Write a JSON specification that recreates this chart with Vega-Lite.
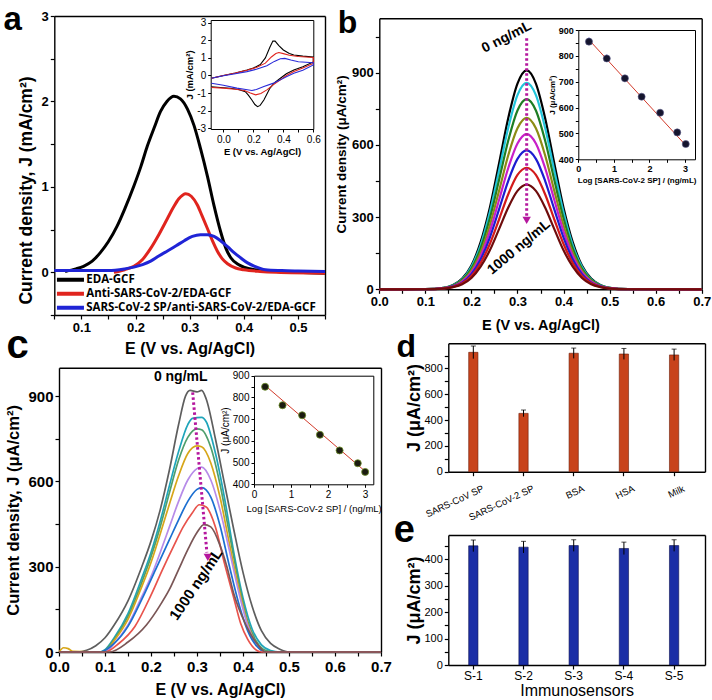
{
"$schema":"https://vega.github.io/schema/vega-lite/v6.json",
"width":712,"height":700,"autosize":{"type":"none"},"padding":0,"background":"white",
"config":{
 "view":{"stroke":null},
 "font":"Liberation Sans",
 "axis":{"grid":false,"domainColor":"#000","tickColor":"#000","labelColor":"#000","titleColor":"#000","labelFont":"Liberation Sans","titleFont":"Liberation Sans","labelFontWeight":"bold","titleFontWeight":"bold","domainWidth":1.4,"tickWidth":1.2,"tickSize":4,"labelPadding":2,"labelOverlap":false,"labelFlush":false,"labelBound":false},
 "legend":{"labelColor":"#000"}
},
"datasets":{
 "a":[
  {"s":"EDA-GCF","x":0.07,"y":0.01},{"s":"EDA-GCF","x":0.09,"y":0.04},{"s":"EDA-GCF","x":0.104,"y":0.07},{"s":"EDA-GCF","x":0.12,"y":0.13},{"s":"EDA-GCF","x":0.135,"y":0.23},{"s":"EDA-GCF","x":0.15,"y":0.36},{"s":"EDA-GCF","x":0.166,"y":0.54},{"s":"EDA-GCF","x":0.18,"y":0.74},{"s":"EDA-GCF","x":0.197,"y":1.01},{"s":"EDA-GCF","x":0.21,"y":1.24},{"s":"EDA-GCF","x":0.222,"y":1.48},{"s":"EDA-GCF","x":0.235,"y":1.7},{"s":"EDA-GCF","x":0.246,"y":1.88},{"s":"EDA-GCF","x":0.258,"y":2.0},{"s":"EDA-GCF","x":0.271,"y":2.06},{"s":"EDA-GCF","x":0.283,"y":2.03},{"s":"EDA-GCF","x":0.296,"y":1.91},{"s":"EDA-GCF","x":0.308,"y":1.72},{"s":"EDA-GCF","x":0.32,"y":1.45},{"s":"EDA-GCF","x":0.333,"y":1.12},{"s":"EDA-GCF","x":0.345,"y":0.78},{"s":"EDA-GCF","x":0.357,"y":0.48},{"s":"EDA-GCF","x":0.367,"y":0.28},{"s":"EDA-GCF","x":0.376,"y":0.17},{"s":"EDA-GCF","x":0.39,"y":0.09},{"s":"EDA-GCF","x":0.4,"y":0.06},{"s":"EDA-GCF","x":0.42,"y":0.03},{"s":"EDA-GCF","x":0.44,"y":0.02},{"s":"EDA-GCF","x":0.47,"y":0.01},{"s":"EDA-GCF","x":0.5,"y":0.0},{"s":"EDA-GCF","x":0.55,"y":-0.01},
  {"s":"Anti-SARS-CoV-2/EDA-GCF","x":0.16,"y":0.0},{"s":"Anti-SARS-CoV-2/EDA-GCF","x":0.18,"y":0.03},{"s":"Anti-SARS-CoV-2/EDA-GCF","x":0.197,"y":0.07},{"s":"Anti-SARS-CoV-2/EDA-GCF","x":0.213,"y":0.15},{"s":"Anti-SARS-CoV-2/EDA-GCF","x":0.228,"y":0.28},{"s":"Anti-SARS-CoV-2/EDA-GCF","x":0.243,"y":0.44},{"s":"Anti-SARS-CoV-2/EDA-GCF","x":0.259,"y":0.63},{"s":"Anti-SARS-CoV-2/EDA-GCF","x":0.27,"y":0.76},{"s":"Anti-SARS-CoV-2/EDA-GCF","x":0.28,"y":0.86},{"s":"Anti-SARS-CoV-2/EDA-GCF","x":0.293,"y":0.92},{"s":"Anti-SARS-CoV-2/EDA-GCF","x":0.303,"y":0.89},{"s":"Anti-SARS-CoV-2/EDA-GCF","x":0.314,"y":0.79},{"s":"Anti-SARS-CoV-2/EDA-GCF","x":0.323,"y":0.66},{"s":"Anti-SARS-CoV-2/EDA-GCF","x":0.333,"y":0.51},{"s":"Anti-SARS-CoV-2/EDA-GCF","x":0.342,"y":0.37},{"s":"Anti-SARS-CoV-2/EDA-GCF","x":0.351,"y":0.25},{"s":"Anti-SARS-CoV-2/EDA-GCF","x":0.36,"y":0.16},{"s":"Anti-SARS-CoV-2/EDA-GCF","x":0.37,"y":0.1},{"s":"Anti-SARS-CoV-2/EDA-GCF","x":0.385,"y":0.05},{"s":"Anti-SARS-CoV-2/EDA-GCF","x":0.4,"y":0.03},{"s":"Anti-SARS-CoV-2/EDA-GCF","x":0.43,"y":0.01},{"s":"Anti-SARS-CoV-2/EDA-GCF","x":0.46,"y":0.0},{"s":"Anti-SARS-CoV-2/EDA-GCF","x":0.55,"y":-0.01},
  {"s":"SARS-CoV-2 SP/anti-SARS-CoV-2/EDA-GCF","x":0.05,"y":0.02},{"s":"SARS-CoV-2 SP/anti-SARS-CoV-2/EDA-GCF","x":0.1,"y":0.02},{"s":"SARS-CoV-2 SP/anti-SARS-CoV-2/EDA-GCF","x":0.15,"y":0.02},{"s":"SARS-CoV-2 SP/anti-SARS-CoV-2/EDA-GCF","x":0.18,"y":0.04},{"s":"SARS-CoV-2 SP/anti-SARS-CoV-2/EDA-GCF","x":0.197,"y":0.06},{"s":"SARS-CoV-2 SP/anti-SARS-CoV-2/EDA-GCF","x":0.213,"y":0.09},{"s":"SARS-CoV-2 SP/anti-SARS-CoV-2/EDA-GCF","x":0.228,"y":0.13},{"s":"SARS-CoV-2 SP/anti-SARS-CoV-2/EDA-GCF","x":0.243,"y":0.19},{"s":"SARS-CoV-2 SP/anti-SARS-CoV-2/EDA-GCF","x":0.259,"y":0.25},{"s":"SARS-CoV-2 SP/anti-SARS-CoV-2/EDA-GCF","x":0.275,"y":0.31},{"s":"SARS-CoV-2 SP/anti-SARS-CoV-2/EDA-GCF","x":0.29,"y":0.37},{"s":"SARS-CoV-2 SP/anti-SARS-CoV-2/EDA-GCF","x":0.305,"y":0.42},{"s":"SARS-CoV-2 SP/anti-SARS-CoV-2/EDA-GCF","x":0.32,"y":0.44},{"s":"SARS-CoV-2 SP/anti-SARS-CoV-2/EDA-GCF","x":0.333,"y":0.44},{"s":"SARS-CoV-2 SP/anti-SARS-CoV-2/EDA-GCF","x":0.345,"y":0.42},{"s":"SARS-CoV-2 SP/anti-SARS-CoV-2/EDA-GCF","x":0.357,"y":0.37},{"s":"SARS-CoV-2 SP/anti-SARS-CoV-2/EDA-GCF","x":0.37,"y":0.3},{"s":"SARS-CoV-2 SP/anti-SARS-CoV-2/EDA-GCF","x":0.382,"y":0.23},{"s":"SARS-CoV-2 SP/anti-SARS-CoV-2/EDA-GCF","x":0.394,"y":0.17},{"s":"SARS-CoV-2 SP/anti-SARS-CoV-2/EDA-GCF","x":0.407,"y":0.11},{"s":"SARS-CoV-2 SP/anti-SARS-CoV-2/EDA-GCF","x":0.42,"y":0.07},{"s":"SARS-CoV-2 SP/anti-SARS-CoV-2/EDA-GCF","x":0.44,"y":0.03},{"s":"SARS-CoV-2 SP/anti-SARS-CoV-2/EDA-GCF","x":0.47,"y":0.02},{"s":"SARS-CoV-2 SP/anti-SARS-CoV-2/EDA-GCF","x":0.5,"y":0.015},{"s":"SARS-CoV-2 SP/anti-SARS-CoV-2/EDA-GCF","x":0.55,"y":0.01}
 ],
 "ai":[
  {"s":"k","i":1,"x":-0.08,"y":-0.16},{"s":"k","i":2,"x":0.0,"y":0.0},{"s":"k","i":3,"x":0.08,"y":0.14},{"s":"k","i":4,"x":0.157,"y":0.31},{"s":"k","i":5,"x":0.2,"y":0.42},{"s":"k","i":6,"x":0.246,"y":0.62},{"s":"k","i":7,"x":0.28,"y":1.0},{"s":"k","i":8,"x":0.31,"y":1.6},{"s":"k","i":9,"x":0.33,"y":1.95},{"s":"k","i":10,"x":0.345,"y":1.95},{"s":"k","i":11,"x":0.37,"y":1.7},{"s":"k","i":12,"x":0.4,"y":1.45},{"s":"k","i":13,"x":0.44,"y":1.25},{"s":"k","i":14,"x":0.47,"y":1.16},{"s":"k","i":15,"x":0.53,"y":1.1},{"s":"k","i":16,"x":0.6,"y":1.05},{"s":"k","i":17,"x":0.6,"y":0.77},{"s":"k","i":18,"x":0.53,"y":0.5},{"s":"k","i":19,"x":0.47,"y":0.31},{"s":"k","i":20,"x":0.42,"y":0.1},{"s":"k","i":21,"x":0.38,"y":-0.16},{"s":"k","i":22,"x":0.34,"y":-0.42},{"s":"k","i":23,"x":0.31,"y":-0.73},{"s":"k","i":24,"x":0.27,"y":-1.39},{"s":"k","i":25,"x":0.245,"y":-1.7},{"s":"k","i":26,"x":0.228,"y":-1.77},{"s":"k","i":27,"x":0.21,"y":-1.65},{"s":"k","i":28,"x":0.19,"y":-1.39},{"s":"k","i":29,"x":0.165,"y":-1.1},{"s":"k","i":30,"x":0.146,"y":-0.92},{"s":"k","i":31,"x":0.1,"y":-0.8},{"s":"k","i":32,"x":0.045,"y":-0.73},{"s":"k","i":33,"x":-0.02,"y":-0.68},{"s":"k","i":34,"x":-0.08,"y":-0.64},
  {"s":"r","i":1,"x":-0.08,"y":-0.16},{"s":"r","i":2,"x":0.0,"y":0.0},{"s":"r","i":3,"x":0.08,"y":0.14},{"s":"r","i":4,"x":0.157,"y":0.3},{"s":"r","i":5,"x":0.22,"y":0.45},{"s":"r","i":6,"x":0.28,"y":0.7},{"s":"r","i":7,"x":0.32,"y":1.05},{"s":"r","i":8,"x":0.35,"y":1.25},{"s":"r","i":9,"x":0.37,"y":1.3},{"s":"r","i":10,"x":0.4,"y":1.24},{"s":"r","i":11,"x":0.44,"y":1.15},{"s":"r","i":12,"x":0.5,"y":1.08},{"s":"r","i":13,"x":0.6,"y":1.02},{"s":"r","i":14,"x":0.6,"y":0.68},{"s":"r","i":15,"x":0.53,"y":0.42},{"s":"r","i":16,"x":0.47,"y":0.22},{"s":"r","i":17,"x":0.42,"y":0.0},{"s":"r","i":18,"x":0.38,"y":-0.25},{"s":"r","i":19,"x":0.33,"y":-0.55},{"s":"r","i":20,"x":0.29,"y":-0.82},{"s":"r","i":21,"x":0.25,"y":-1.02},{"s":"r","i":22,"x":0.215,"y":-1.1},{"s":"r","i":23,"x":0.18,"y":-1.0},{"s":"r","i":24,"x":0.14,"y":-0.85},{"s":"r","i":25,"x":0.08,"y":-0.78},{"s":"r","i":26,"x":0.0,"y":-0.72},{"s":"r","i":27,"x":-0.08,"y":-0.68},
  {"s":"b","i":1,"x":-0.08,"y":-0.16},{"s":"b","i":2,"x":0.0,"y":-0.02},{"s":"b","i":3,"x":0.08,"y":0.1},{"s":"b","i":4,"x":0.157,"y":0.22},{"s":"b","i":5,"x":0.22,"y":0.35},{"s":"b","i":6,"x":0.29,"y":0.55},{"s":"b","i":7,"x":0.34,"y":0.8},{"s":"b","i":8,"x":0.38,"y":0.95},{"s":"b","i":9,"x":0.41,"y":0.97},{"s":"b","i":10,"x":0.45,"y":0.88},{"s":"b","i":11,"x":0.5,"y":0.78},{"s":"b","i":12,"x":0.6,"y":0.72},{"s":"b","i":13,"x":0.6,"y":0.6},{"s":"b","i":14,"x":0.53,"y":0.3},{"s":"b","i":15,"x":0.47,"y":0.12},{"s":"b","i":16,"x":0.42,"y":-0.07},{"s":"b","i":17,"x":0.38,"y":-0.25},{"s":"b","i":18,"x":0.33,"y":-0.45},{"s":"b","i":19,"x":0.27,"y":-0.63},{"s":"b","i":20,"x":0.22,"y":-0.8},{"s":"b","i":21,"x":0.19,"y":-0.85},{"s":"b","i":22,"x":0.15,"y":-0.8},{"s":"b","i":23,"x":0.09,"y":-0.72},{"s":"b","i":24,"x":0.0,"y":-0.56},{"s":"b","i":25,"x":-0.08,"y":-0.44}
 ],
 "b":[
  {"x":0,"c0":0,"c2":0,"c6":0,"c20":0,"c60":0,"c200":0,"c600":0,"c1000":0},
  {"x":0.1,"c0":0.5,"c2":0.5,"c6":0.5,"c20":0.4,"c60":0.4,"c200":0.3,"c600":0.3,"c1000":0.3},
  {"x":0.14,"c0":6,"c2":6,"c6":6,"c20":5,"c60":5,"c200":4,"c600":4,"c1000":3},
  {"x":0.16,"c0":18,"c2":17,"c6":16,"c20":14,"c60":13,"c200":12,"c600":10,"c1000":9},
  {"x":0.18,"c0":45,"c2":42,"c6":39,"c20":35,"c60":32,"c200":28,"c600":25,"c1000":21},
  {"x":0.2,"c0":99,"c2":94,"c6":86,"c20":78,"c60":70,"c200":63,"c600":55,"c1000":47},
  {"x":0.22,"c0":196,"c2":184,"c6":170,"c20":153,"c60":139,"c200":124,"c600":109,"c1000":94},
  {"x":0.24,"c0":339,"c2":320,"c6":295,"c20":266,"c60":241,"c200":215,"c600":188,"c1000":162},
  {"x":0.26,"c0":523,"c2":493,"c6":454,"c20":409,"c60":371,"c200":332,"c600":290,"c1000":250},
  {"x":0.28,"c0":712,"c2":671,"c6":618,"c20":557,"c60":504,"c200":451,"c600":395,"c1000":340},
  {"x":0.3,"c0":855,"c2":807,"c6":743,"c20":669,"c60":606,"c200":542,"c600":475,"c1000":409},
  {"x":0.32,"c0":910,"c2":858,"c6":790,"c20":712,"c60":645,"c200":577,"c600":505,"c1000":435},
  {"x":0.34,"c0":855,"c2":807,"c6":743,"c20":669,"c60":606,"c200":542,"c600":475,"c1000":409},
  {"x":0.36,"c0":712,"c2":671,"c6":618,"c20":557,"c60":504,"c200":451,"c600":395,"c1000":340},
  {"x":0.38,"c0":523,"c2":493,"c6":454,"c20":409,"c60":371,"c200":332,"c600":290,"c1000":250},
  {"x":0.4,"c0":339,"c2":320,"c6":295,"c20":266,"c60":241,"c200":215,"c600":188,"c1000":162},
  {"x":0.42,"c0":196,"c2":184,"c6":170,"c20":153,"c60":139,"c200":124,"c600":109,"c1000":94},
  {"x":0.44,"c0":99,"c2":94,"c6":86,"c20":78,"c60":70,"c200":63,"c600":55,"c1000":47},
  {"x":0.46,"c0":45,"c2":42,"c6":39,"c20":35,"c60":32,"c200":28,"c600":25,"c1000":21},
  {"x":0.48,"c0":18,"c2":17,"c6":16,"c20":14,"c60":13,"c200":12,"c600":10,"c1000":9},
  {"x":0.5,"c0":6,"c2":6,"c6":6,"c20":5,"c60":5,"c200":4,"c600":4,"c1000":3},
  {"x":0.54,"c0":0.5,"c2":0.5,"c6":0.5,"c20":0.4,"c60":0.4,"c200":0.3,"c600":0.3,"c1000":0.3},
  {"x":0.7,"c0":0,"c2":0,"c6":0,"c20":0,"c60":0,"c200":0,"c600":0,"c1000":0}
 ],
 "bi":[{"x":0.3,"y":855,"lo":843,"hi":870},{"x":0.8,"y":790,"lo":778,"hi":804},{"x":1.31,"y":713,"lo":703,"hi":726},{"x":1.78,"y":642,"lo":634,"hi":652},{"x":2.3,"y":580,"lo":572,"hi":588},{"x":2.78,"y":504,"lo":498,"hi":511},{"x":3.02,"y":459,"lo":454,"hi":465}],
 "bf":[{"x":0.3,"y":862},{"x":3.0,"y":457}],
 "c":[
  {"c":"c0","x":0,"y":0},{"c":"c0","x":0.04,"y":0},{"c":"c0","x":0.06,"y":6},{"c":"c0","x":0.08,"y":22},{"c":"c0","x":0.1,"y":50},{"c":"c0","x":0.12,"y":95},{"c":"c0","x":0.15,"y":180},{"c":"c0","x":0.18,"y":300},{"c":"c0","x":0.2,"y":390},{"c":"c0","x":0.22,"y":500},{"c":"c0","x":0.24,"y":640},{"c":"c0","x":0.26,"y":800},{"c":"c0","x":0.275,"y":900},{"c":"c0","x":0.285,"y":920},{"c":"c0","x":0.3,"y":915},{"c":"c0","x":0.31,"y":920},{"c":"c0","x":0.32,"y":890},{"c":"c0","x":0.34,"y":750},{"c":"c0","x":0.36,"y":590},{"c":"c0","x":0.38,"y":430},{"c":"c0","x":0.4,"y":280},{"c":"c0","x":0.42,"y":160},{"c":"c0","x":0.44,"y":75},{"c":"c0","x":0.46,"y":30},{"c":"c0","x":0.48,"y":10},{"c":"c0","x":0.5,"y":0},{"c":"c0","x":0.7,"y":0},
  {"c":"c2","x":0,"y":0},{"c":"c2","x":0.09,"y":0},{"c":"c2","x":0.1,"y":8},{"c":"c2","x":0.12,"y":50},{"c":"c2","x":0.15,"y":135},{"c":"c2","x":0.18,"y":260},{"c":"c2","x":0.2,"y":350},{"c":"c2","x":0.22,"y":460},{"c":"c2","x":0.24,"y":585},{"c":"c2","x":0.26,"y":705},{"c":"c2","x":0.28,"y":800},{"c":"c2","x":0.29,"y":822},{"c":"c2","x":0.31,"y":825},{"c":"c2","x":0.32,"y":810},{"c":"c2","x":0.34,"y":700},{"c":"c2","x":0.36,"y":540},{"c":"c2","x":0.38,"y":350},{"c":"c2","x":0.4,"y":190},{"c":"c2","x":0.42,"y":80},{"c":"c2","x":0.44,"y":25},{"c":"c2","x":0.46,"y":5},{"c":"c2","x":0.48,"y":0},{"c":"c2","x":0.7,"y":0},
  {"c":"c6","x":0,"y":0},{"c":"c6","x":0.09,"y":0},{"c":"c6","x":0.1,"y":6},{"c":"c6","x":0.12,"y":45},{"c":"c6","x":0.15,"y":125},{"c":"c6","x":0.18,"y":245},{"c":"c6","x":0.2,"y":335},{"c":"c6","x":0.22,"y":440},{"c":"c6","x":0.24,"y":560},{"c":"c6","x":0.26,"y":675},{"c":"c6","x":0.28,"y":755},{"c":"c6","x":0.3,"y":785},{"c":"c6","x":0.31,"y":782},{"c":"c6","x":0.33,"y":720},{"c":"c6","x":0.35,"y":590},{"c":"c6","x":0.37,"y":420},{"c":"c6","x":0.39,"y":250},{"c":"c6","x":0.41,"y":110},{"c":"c6","x":0.43,"y":35},{"c":"c6","x":0.45,"y":5},{"c":"c6","x":0.47,"y":0},{"c":"c6","x":0.7,"y":0},
  {"c":"c20","x":0,"y":0},{"c":"c20","x":0.01,"y":15},{"c":"c20","x":0.02,"y":12},{"c":"c20","x":0.03,"y":2},{"c":"c20","x":0.1,"y":0},{"c":"c20","x":0.12,"y":40},{"c":"c20","x":0.15,"y":115},{"c":"c20","x":0.18,"y":230},{"c":"c20","x":0.2,"y":315},{"c":"c20","x":0.22,"y":415},{"c":"c20","x":0.24,"y":520},{"c":"c20","x":0.26,"y":620},{"c":"c20","x":0.28,"y":698},{"c":"c20","x":0.3,"y":725},{"c":"c20","x":0.31,"y":722},{"c":"c20","x":0.33,"y":665},{"c":"c20","x":0.35,"y":545},{"c":"c20","x":0.37,"y":385},{"c":"c20","x":0.39,"y":230},{"c":"c20","x":0.41,"y":100},{"c":"c20","x":0.43,"y":25},{"c":"c20","x":0.45,"y":0},{"c":"c20","x":0.7,"y":0},
  {"c":"c60","x":0,"y":0},{"c":"c60","x":0.1,"y":0},{"c":"c60","x":0.12,"y":30},{"c":"c60","x":0.15,"y":95},{"c":"c60","x":0.18,"y":195},{"c":"c60","x":0.2,"y":265},{"c":"c60","x":0.22,"y":350},{"c":"c60","x":0.24,"y":440},{"c":"c60","x":0.26,"y":530},{"c":"c60","x":0.28,"y":605},{"c":"c60","x":0.3,"y":645},{"c":"c60","x":0.31,"y":650},{"c":"c60","x":0.33,"y":605},{"c":"c60","x":0.35,"y":500},{"c":"c60","x":0.37,"y":360},{"c":"c60","x":0.39,"y":215},{"c":"c60","x":0.41,"y":95},{"c":"c60","x":0.43,"y":25},{"c":"c60","x":0.45,"y":0},{"c":"c60","x":0.7,"y":0},
  {"c":"c200","x":0,"y":0},{"c":"c200","x":0.09,"y":0},{"c":"c200","x":0.12,"y":30},{"c":"c200","x":0.15,"y":90},{"c":"c200","x":0.18,"y":185},{"c":"c200","x":0.21,"y":290},{"c":"c200","x":0.24,"y":395},{"c":"c200","x":0.26,"y":465},{"c":"c200","x":0.28,"y":530},{"c":"c200","x":0.3,"y":572},{"c":"c200","x":0.31,"y":578},{"c":"c200","x":0.33,"y":545},{"c":"c200","x":0.35,"y":445},{"c":"c200","x":0.37,"y":305},{"c":"c200","x":0.39,"y":175},{"c":"c200","x":0.41,"y":75},{"c":"c200","x":0.43,"y":20},{"c":"c200","x":0.45,"y":0},{"c":"c200","x":0.7,"y":0},
  {"c":"c600","x":0,"y":0},{"c":"c600","x":0.1,"y":0},{"c":"c600","x":0.13,"y":30},{"c":"c600","x":0.165,"y":90},{"c":"c600","x":0.2,"y":200},{"c":"c600","x":0.225,"y":290},{"c":"c600","x":0.25,"y":375},{"c":"c600","x":0.27,"y":440},{"c":"c600","x":0.29,"y":490},{"c":"c600","x":0.305,"y":518},{"c":"c600","x":0.32,"y":510},{"c":"c600","x":0.34,"y":440},{"c":"c600","x":0.36,"y":310},{"c":"c600","x":0.38,"y":190},{"c":"c600","x":0.395,"y":100},{"c":"c600","x":0.41,"y":45},{"c":"c600","x":0.44,"y":0},{"c":"c600","x":0.7,"y":0},
  {"c":"c1000","x":0,"y":0},{"c":"c1000","x":0.11,"y":0},{"c":"c1000","x":0.15,"y":35},{"c":"c1000","x":0.19,"y":95},{"c":"c1000","x":0.22,"y":165},{"c":"c1000","x":0.24,"y":220},{"c":"c1000","x":0.26,"y":290},{"c":"c1000","x":0.28,"y":360},{"c":"c1000","x":0.3,"y":420},{"c":"c1000","x":0.315,"y":448},{"c":"c1000","x":0.33,"y":440},{"c":"c1000","x":0.35,"y":375},{"c":"c1000","x":0.365,"y":300},{"c":"c1000","x":0.38,"y":205},{"c":"c1000","x":0.405,"y":100},{"c":"c1000","x":0.43,"y":30},{"c":"c1000","x":0.45,"y":0},{"c":"c1000","x":0.7,"y":0}
 ],
 "ci":[{"x":0.3,"y":849},{"x":0.77,"y":764},{"x":1.3,"y":718},{"x":1.78,"y":628},{"x":2.31,"y":556},{"x":2.8,"y":497},{"x":3.0,"y":457}],
 "cf":[{"x":0.3,"y":855},{"x":3.0,"y":460}],
 "d":[{"k":"SARS-CoV SP","y":925,"lo":876,"hi":974},{"k":"SARS-CoV-2 SP","y":452,"lo":426,"hi":478},{"k":"BSA","y":918,"lo":878,"hi":958},{"k":"HSA","y":912,"lo":870,"hi":955},{"k":"Milk","y":905,"lo":862,"hi":950}],
 "e":[{"k":"S-1","y":451,"lo":429,"hi":473},{"k":"S-2","y":446,"lo":424,"hi":468},{"k":"S-3","y":452,"lo":430,"hi":474},{"k":"S-4","y":441,"lo":418,"hi":465},{"k":"S-5","y":452,"lo":430,"hi":474}]
},
"layer":[
 {
  "layer":[
   {"data":{"name":"a"},"mark":{"type":"line","strokeWidth":3,"interpolate":"monotone"},
    "encoding":{
     "x":{"field":"x","type":"quantitative","scale":{"domain":[0.05,0.55],"range":[54.3,325],"nice":false,"zero":false},
      "axis":{"orient":"bottom","offset":-385,"values":[0.05,0.1,0.15,0.2,0.25,0.3,0.35,0.4,0.45,0.5,0.55],"labelExpr":"round(datum.value*100)%10==0 ? format(datum.value,'.1f') : ''","labelFontSize":13,"title":"E (V vs. Ag/AgCl)","titleFontSize":16,"titlePadding":6}},
     "y":{"field":"y","type":"quantitative","scale":{"domain":[-0.5,3],"range":[315,16],"nice":false,"zero":false},
      "axis":{"orient":"left","offset":-54.3,"values":[-0.5,0,0.5,1,1.5,2,2.5,3],"labelExpr":"datum.value>=0 && round(datum.value*10)%10==0 ? ''+datum.value : ''","labelFontSize":13,"title":"Current density, J (mA/cm²)","titleFontSize":17.5,"titlePadding":6,"titleY":190}},
     "color":{"field":"s","type":"nominal","scale":{"domain":["EDA-GCF","Anti-SARS-CoV-2/EDA-GCF","SARS-CoV-2 SP/anti-SARS-CoV-2/EDA-GCF"],"range":["#000000","#e0241e","#1f24d6"]},
      "legend":{"orient":"none","legendX":64.7,"legendY":274,"title":null,"symbolType":"M-3.86,0H3.86","symbolSize":49,"symbolStrokeWidth":4,"labelFont":"Open Sans","labelFontWeight":"bold","labelFontSize":11.5,"labelOffset":10,"rowPadding":-4,"padding":0,"labelLimit":400}}
    }},
   {"data":{"name":"a"},"mark":{"type":"point","opacity":0},
    "encoding":{
     "x":{"field":"x","type":"quantitative","scale":{"domain":[0.05,0.55],"range":[54.3,325],"nice":false,"zero":false},"axis":{"orient":"top","offset":-16,"labels":false,"ticks":false,"title":null}},
     "y":{"field":"y","type":"quantitative","scale":{"domain":[-0.5,3],"range":[315,16],"nice":false,"zero":false},"axis":{"orient":"right","offset":-387,"labels":false,"ticks":false,"title":null}}
    }},
   {"data":{"values":[{"t":"a","x":-0.027,"y":2.836}]},"mark":{"type":"text","fontSize":33,"fontWeight":"bold","align":"center","baseline":"alphabetic","color":"#000"},
    "encoding":{
     "x":{"field":"x","type":"quantitative","scale":{"domain":[0.05,0.55],"range":[54.3,325],"nice":false,"zero":false},"axis":null},
     "y":{"field":"y","type":"quantitative","scale":{"domain":[-0.5,3],"range":[315,16],"nice":false,"zero":false},"axis":null},
     "text":{"field":"t"}
    }}
  ],
  "resolve":{"axis":{"x":"independent","y":"independent"}}
 },
 {
  "layer":[
   {"data":{"name":"ai"},"mark":{"type":"line","strokeWidth":1.1},
    "encoding":{
     "x":{"field":"x","type":"quantitative","scale":{"domain":[-0.085,0.6],"range":[210.7,313.3],"nice":false,"zero":false},
      "axis":{"orient":"bottom","offset":-571,"values":[0,0.1,0.2,0.3,0.4,0.5,0.6],"labelExpr":"round(datum.value*10)%2==0 ? format(datum.value,'.1f') : ''","labelFontWeight":"normal","labelFontSize":10,"tickSize":3,"tickWidth":1,"domainWidth":1,"title":"E (V vs. Ag/AgCl)","titleFontSize":9.5,"titlePadding":2}},
     "y":{"field":"y","type":"quantitative","scale":{"domain":[-3.04,3.15],"range":[129,20],"nice":false,"zero":false},
      "axis":{"orient":"left","offset":-210.7,"values":[-3,-2,-1,0,1,2,3],"labelExpr":"''+datum.value","labelFontWeight":"normal","labelFontSize":10,"tickSize":3,"tickWidth":1,"domainWidth":1,"title":"J (mA/cm²)","titleFontSize":9.5,"titlePadding":2}},
     "color":{"field":"s","type":"nominal","scale":{"domain":["k","r","b"],"range":["#000000","#e0241e","#2a2ad8"]},"legend":null},
     "order":{"field":"i","type":"quantitative"}
    }},
   {"data":{"name":"ai"},"mark":{"type":"point","opacity":0},
    "encoding":{
     "x":{"field":"x","type":"quantitative","scale":{"domain":[-0.085,0.6],"range":[210.7,313.3],"nice":false,"zero":false},"axis":{"orient":"top","offset":-20,"labels":false,"ticks":false,"title":null,"domainWidth":1}},
     "y":{"field":"y","type":"quantitative","scale":{"domain":[-3.04,3.15],"range":[129,20],"nice":false,"zero":false},"axis":{"orient":"right","offset":-398.7,"labels":false,"ticks":false,"title":null,"domainWidth":1}}
    }}
  ],
  "resolve":{"axis":{"x":"independent","y":"independent"}}
 },
 {
  "layer":[
   {"data":{"name":"b"},"transform":[{"fold":["c0","c2","c6","c20","c60","c200","c600","c1000"],"as":["k","y"]}],
    "mark":{"type":"line","strokeWidth":2.2,"interpolate":"monotone"},
    "encoding":{
     "x":{"field":"x","type":"quantitative","scale":{"domain":[0,0.7],"range":[379.3,701.7],"nice":false,"zero":false},
      "axis":{"orient":"bottom","offset":-410.7,"values":[0,0.05,0.1,0.15,0.2,0.25,0.3,0.35,0.4,0.45,0.5,0.55,0.6,0.65,0.7],"labelExpr":"round(datum.value*100)%10==0 ? format(datum.value,'.1f') : ''","labelFontSize":13,"title":"E (V vs. Ag/AgCl)","titleFontSize":14.5,"titlePadding":10}},
     "y":{"field":"y","type":"quantitative","scale":{"domain":[0,1126],"range":[289.3,18.3],"nice":false,"zero":false},
      "axis":{"orient":"left","offset":-379.3,"values":[0,150,300,450,600,750,900,1050],"labelExpr":"datum.value%300==0 ? ''+datum.value : ''","labelFontSize":13,"title":"Current density (μA/cm²)","titleFontSize":13.5,"titlePadding":3}},
     "color":{"field":"k","type":"nominal","scale":{"domain":["c0","c2","c6","c20","c60","c200","c600","c1000"],"range":["#000000","#22c5da","#1e7d23","#8c8c14","#c81fc8","#1c1cd0","#d21a1a","#6e0c0c"]},"legend":null}
    }},
   {"data":{"name":"b"},"mark":{"type":"point","opacity":0},
    "encoding":{
     "x":{"field":"x","type":"quantitative","scale":{"domain":[0,0.7],"range":[379.3,701.7],"nice":false,"zero":false},"axis":{"orient":"top","offset":-18.3,"labels":false,"ticks":false,"title":null}},
     "y":{"field":"c0","type":"quantitative","scale":{"domain":[0,1126],"range":[289.3,18.3],"nice":false,"zero":false},"axis":{"orient":"right","offset":-10.3,"labels":false,"ticks":false,"title":null}}
    }},
   {"data":{"values":[{"x":0.32,"y":1043,"y2":300}]},"mark":{"type":"rule","strokeWidth":3,"strokeDash":[2.5,2.5],"color":"#b5179e"},
    "encoding":{
     "x":{"field":"x","type":"quantitative","scale":{"domain":[0,0.7],"range":[379.3,701.7],"nice":false,"zero":false},"axis":null},
     "y":{"field":"y","type":"quantitative","scale":{"domain":[0,1126],"range":[289.3,18.3],"nice":false,"zero":false},"axis":null},
     "y2":{"field":"y2"}
    }},
   {"data":{"values":[{"x":0.32,"y":286}]},"mark":{"type":"point","shape":"triangle-down","filled":true,"size":70,"color":"#b5179e","opacity":1},
    "encoding":{
     "x":{"field":"x","type":"quantitative","scale":{"domain":[0,0.7],"range":[379.3,701.7],"nice":false,"zero":false},"axis":null},
     "y":{"field":"y","type":"quantitative","scale":{"domain":[0,1126],"range":[289.3,18.3],"nice":false,"zero":false},"axis":null}
    }},
   {"data":{"values":[{"t":"0 ng/mL","x":0.2766,"y":1047}]},"mark":{"type":"text","fontSize":14,"fontWeight":"bold","angle":333,"align":"center","baseline":"middle","color":"#000"},
    "encoding":{
     "x":{"field":"x","type":"quantitative","scale":{"domain":[0,0.7],"range":[379.3,701.7],"nice":false,"zero":false},"axis":null},
     "y":{"field":"y","type":"quantitative","scale":{"domain":[0,1126],"range":[289.3,18.3],"nice":false,"zero":false},"axis":null},
     "text":{"field":"t"}
    }},
   {"data":{"values":[{"t":"1000 ng/mL","x":0.3033,"y":175}]},"mark":{"type":"text","fontSize":14,"fontWeight":"bold","angle":320,"align":"center","baseline":"middle","color":"#000"},
    "encoding":{
     "x":{"field":"x","type":"quantitative","scale":{"domain":[0,0.7],"range":[379.3,701.7],"nice":false,"zero":false},"axis":null},
     "y":{"field":"y","type":"quantitative","scale":{"domain":[0,1126],"range":[289.3,18.3],"nice":false,"zero":false},"axis":null},
     "text":{"field":"t"}
    }},
   {"data":{"values":[{"t":"b","x":-0.069,"y":1064}]},"mark":{"type":"text","fontSize":32,"fontWeight":"bold","align":"center","baseline":"alphabetic","color":"#000"},
    "encoding":{
     "x":{"field":"x","type":"quantitative","scale":{"domain":[0,0.7],"range":[379.3,701.7],"nice":false,"zero":false},"axis":null},
     "y":{"field":"y","type":"quantitative","scale":{"domain":[0,1126],"range":[289.3,18.3],"nice":false,"zero":false},"axis":null},
     "text":{"field":"t"}
    }}
  ],
  "resolve":{"axis":{"x":"independent","y":"independent"}}
 },
 {
  "layer":[
   {"data":{"name":"bf"},"mark":{"type":"line","strokeWidth":1,"color":"#d23a2a"},
    "encoding":{
     "x":{"field":"x","type":"quantitative","scale":{"domain":[0,3.28],"range":[578.3,695],"nice":false,"zero":false},
      "axis":{"orient":"bottom","offset":-540.7,"values":[0,0.5,1,1.5,2,2.5,3],"labelExpr":"datum.value%1==0 ? ''+datum.value : ''","labelFontSize":9,"tickSize":3,"tickWidth":1,"domainWidth":1,"title":"Log [SARS-CoV-2 SP] / (ng/mL)","titleFontSize":8,"titlePadding":3}},
     "y":{"field":"y","type":"quantitative","scale":{"domain":[400,900],"range":[159.3,30],"nice":false,"zero":false},
      "axis":{"orient":"left","offset":-578.3,"values":[400,450,500,550,600,650,700,750,800,850,900],"labelExpr":"datum.value%100==0 ? ''+datum.value : ''","labelFontSize":9,"tickSize":3,"tickWidth":1,"domainWidth":1,"title":"J (μA/cm²)","titleFontSize":8,"titlePadding":2}}
    }},
   {"data":{"name":"bi"},"mark":{"type":"rule","strokeWidth":1.5,"color":"#2a3ad0"},
    "encoding":{
     "x":{"field":"x","type":"quantitative","scale":{"domain":[0,3.28],"range":[578.3,695],"nice":false,"zero":false},"axis":{"orient":"top","offset":-30,"labels":false,"ticks":false,"title":null,"domainWidth":1}},
     "y":{"field":"lo","type":"quantitative","scale":{"domain":[400,900],"range":[159.3,30],"nice":false,"zero":false},"axis":{"orient":"right","offset":-17,"labels":false,"ticks":false,"title":null,"domainWidth":1}},
     "y2":{"field":"hi"}
    }},
   {"data":{"name":"bi"},"mark":{"type":"point","filled":true,"size":50,"color":"#15152e","stroke":"#5a5a8a","strokeWidth":0.6,"opacity":1},
    "encoding":{
     "x":{"field":"x","type":"quantitative","scale":{"domain":[0,3.28],"range":[578.3,695],"nice":false,"zero":false},"axis":null},
     "y":{"field":"y","type":"quantitative","scale":{"domain":[400,900],"range":[159.3,30],"nice":false,"zero":false},"axis":null}
    }}
  ],
  "resolve":{"axis":{"x":"independent","y":"independent"}}
 },
 {
  "layer":[
   {"data":{"name":"c"},"mark":{"type":"line","strokeWidth":1.7,"interpolate":"monotone"},
    "encoding":{
     "x":{"field":"x","type":"quantitative","scale":{"domain":[0,0.7],"range":[59,381],"nice":false,"zero":false},
      "axis":{"orient":"bottom","offset":-48,"values":[0,0.05,0.1,0.15,0.2,0.25,0.3,0.35,0.4,0.45,0.5,0.55,0.6,0.65,0.7],"labelExpr":"round(datum.value*100)%10==0 ? format(datum.value,'.1f') : ''","labelFontSize":15,"labelPadding":3,"title":"E (V vs. Ag/AgCl)","titleFontSize":16,"titlePadding":7}},
     "y":{"field":"y","type":"quantitative","scale":{"domain":[0,1000],"range":[652,367.7],"nice":false,"zero":false},
      "axis":{"orient":"left","offset":-59,"values":[0,150,300,450,600,750,900],"labelExpr":"datum.value%300==0 ? ''+datum.value : ''","labelFontSize":15,"title":"Current density, J (μA/cm²)","titleFontSize":16.5,"titlePadding":6}},
     "color":{"field":"c","type":"nominal","scale":{"domain":["c0","c2","c6","c20","c60","c200","c600","c1000"],"range":["#5e5e5e","#1fa5ba","#4f9e6c","#d7a619","#b68be8","#1c6fd1","#e8534c","#7a5656"]},"legend":null}
    }},
   {"data":{"name":"c"},"mark":{"type":"point","opacity":0},
    "encoding":{
     "x":{"field":"x","type":"quantitative","scale":{"domain":[0,0.7],"range":[59,381],"nice":false,"zero":false},"axis":{"orient":"top","offset":-367.7,"labels":false,"ticks":false,"title":null}},
     "y":{"field":"y","type":"quantitative","scale":{"domain":[0,1000],"range":[652,367.7],"nice":false,"zero":false},"axis":{"orient":"right","offset":-331,"labels":false,"ticks":false,"title":null}}
    }},
   {"data":{"values":[{"x":0.2906,"y":913,"x2":0.3215,"y2":350}]},"mark":{"type":"rule","strokeWidth":3,"strokeDash":[2.5,2.5],"color":"#b5179e"},
    "encoding":{
     "x":{"field":"x","type":"quantitative","scale":{"domain":[0,0.7],"range":[59,381],"nice":false,"zero":false},"axis":null},
     "y":{"field":"y","type":"quantitative","scale":{"domain":[0,1000],"range":[652,367.7],"nice":false,"zero":false},"axis":null},
     "x2":{"field":"x2"},"y2":{"field":"y2"}
    }},
   {"data":{"values":[{"x":0.3235,"y":333}]},"mark":{"type":"point","shape":"triangle-down","filled":true,"size":70,"color":"#b5179e","opacity":1},
    "encoding":{
     "x":{"field":"x","type":"quantitative","scale":{"domain":[0,0.7],"range":[59,381],"nice":false,"zero":false},"axis":null},
     "y":{"field":"y","type":"quantitative","scale":{"domain":[0,1000],"range":[652,367.7],"nice":false,"zero":false},"axis":null}
    }},
   {"data":{"values":[{"t":"0 ng/mL","x":0.2646,"y":968}]},"mark":{"type":"text","fontSize":14,"fontWeight":"bold","align":"center","baseline":"middle","color":"#000"},
    "encoding":{
     "x":{"field":"x","type":"quantitative","scale":{"domain":[0,0.7],"range":[59,381],"nice":false,"zero":false},"axis":null},
     "y":{"field":"y","type":"quantitative","scale":{"domain":[0,1000],"range":[652,367.7],"nice":false,"zero":false},"axis":null},
     "text":{"field":"t"}
    }},
   {"data":{"values":[{"t":"1000 ng/mL","x":0.2978,"y":238}]},"mark":{"type":"text","fontSize":15,"fontWeight":"bold","angle":304,"align":"center","baseline":"middle","color":"#000"},
    "encoding":{
     "x":{"field":"x","type":"quantitative","scale":{"domain":[0,0.7],"range":[59,381],"nice":false,"zero":false},"axis":null},
     "y":{"field":"y","type":"quantitative","scale":{"domain":[0,1000],"range":[652,367.7],"nice":false,"zero":false},"axis":null},
     "text":{"field":"t"}
    }},
   {"data":{"values":[{"t":"c","x":-0.09,"y":1033}]},"mark":{"type":"text","fontSize":40,"fontWeight":"bold","align":"center","baseline":"alphabetic","color":"#000"},
    "encoding":{
     "x":{"field":"x","type":"quantitative","scale":{"domain":[0,0.7],"range":[59,381],"nice":false,"zero":false},"axis":null},
     "y":{"field":"y","type":"quantitative","scale":{"domain":[0,1000],"range":[652,367.7],"nice":false,"zero":false},"axis":null},
     "text":{"field":"t"}
    }}
  ],
  "resolve":{"axis":{"x":"independent","y":"independent"}}
 },
 {
  "layer":[
   {"data":{"name":"cf"},"mark":{"type":"line","strokeWidth":1,"color":"#d23a2a"},
    "encoding":{
     "x":{"field":"x","type":"quantitative","scale":{"domain":[0,3.22],"range":[254,373.3],"nice":false,"zero":false},
      "axis":{"orient":"bottom","offset":-215.7,"values":[0,0.5,1,1.5,2,2.5,3],"labelExpr":"datum.value%1==0 ? ''+datum.value : ''","labelFontSize":10,"labelFontWeight":"normal","tickSize":3,"tickWidth":1,"domainWidth":1,"title":"Log [SARS-CoV-2 SP] / (ng/mL)","titleFontSize":9.5,"titleFontWeight":"normal","titlePadding":4}},
     "y":{"field":"y","type":"quantitative","scale":{"domain":[400,900],"range":[484.3,375.7],"nice":false,"zero":false},
      "axis":{"orient":"left","offset":-254,"values":[400,450,500,550,600,650,700,750,800,850,900],"labelExpr":"datum.value%100==0 ? ''+datum.value : ''","labelFontSize":10,"labelFontWeight":"normal","tickSize":3,"tickWidth":1,"domainWidth":1,"title":"J (μA/cm²)","titleFontSize":10,"titleFontWeight":"normal","titlePadding":2}}
    }},
   {"data":{"name":"ci"},"mark":{"type":"point","filled":true,"size":50,"color":"#1b1b10","stroke":"#6d8f2a","strokeWidth":0.8,"opacity":1},
    "encoding":{
     "x":{"field":"x","type":"quantitative","scale":{"domain":[0,3.22],"range":[254,373.3],"nice":false,"zero":false},"axis":{"orient":"top","offset":-375.7,"labels":false,"ticks":false,"title":null,"domainWidth":1}},
     "y":{"field":"y","type":"quantitative","scale":{"domain":[400,900],"range":[484.3,375.7],"nice":false,"zero":false},"axis":{"orient":"right","offset":-338.7,"labels":false,"ticks":false,"title":null,"domainWidth":1}}
    }}
  ],
  "resolve":{"axis":{"x":"independent","y":"independent"}}
 },
 {
  "layer":[
   {"data":{"name":"d"},"mark":{"type":"bar","color":"#c8431b","stroke":"#6b1d08","strokeWidth":0.6},
    "encoding":{
     "x":{"field":"k","type":"nominal","sort":null,"scale":{"type":"band","domain":["SARS-CoV SP","SARS-CoV-2 SP","BSA","HSA","Milk"],"range":[448.3,705],"paddingInner":0.815,"paddingOuter":0.4645,"align":0.437},
      "axis":{"orient":"bottom","offset":-228.3,"labelAngle":-25,"labelAlign":"right","labelBaseline":"middle","labelOffset":10,"labelPadding":12,"labelFontSize":9.5,"labelFontWeight":"normal","tickSize":4,"title":null}},
     "y":{"field":"y","type":"quantitative","scale":{"domain":[0,995],"range":[471.7,343.3],"nice":false,"zero":false},
      "axis":{"orient":"left","offset":-448.3,"values":[0,100,200,300,400,500,600,700,800,900],"labelExpr":"datum.value%200==0 ? ''+datum.value : ''","labelFontSize":11,"labelFontWeight":"normal","tickSize":4,"title":"J (μA/cm²)","titleFontSize":18,"titlePadding":0}}
    }},
   {"data":{"name":"d"},"mark":{"type":"rule","strokeWidth":1,"color":"#000"},
    "encoding":{
     "x":{"field":"k","type":"nominal","sort":null,"scale":{"type":"band","domain":["SARS-CoV SP","SARS-CoV-2 SP","BSA","HSA","Milk"],"range":[448.3,705],"paddingInner":0.815,"paddingOuter":0.4645,"align":0.437},"axis":{"orient":"top","offset":-343.3,"labels":false,"ticks":false,"title":null}},
     "y":{"field":"lo","type":"quantitative","scale":{"domain":[0,995],"range":[471.7,343.3],"nice":false,"zero":false},"axis":{"orient":"right","offset":-7,"labels":false,"ticks":false,"title":null}},
     "y2":{"field":"hi"}
    }},
   {"data":{"name":"d"},"mark":{"type":"tick","size":5,"thickness":1,"color":"#000"},
    "encoding":{
     "x":{"field":"k","type":"nominal","sort":null,"scale":{"type":"band","domain":["SARS-CoV SP","SARS-CoV-2 SP","BSA","HSA","Milk"],"range":[448.3,705],"paddingInner":0.815,"paddingOuter":0.4645,"align":0.437},"axis":null},
     "y":{"field":"hi","type":"quantitative","scale":{"domain":[0,995],"range":[471.7,343.3],"nice":false,"zero":false},"axis":null}
    }},
   {"data":{"values":[{"t":"d","k":"SARS-CoV SP","y":891}]},"mark":{"type":"text","fontSize":32,"fontWeight":"bold","align":"center","baseline":"alphabetic","dx":-67,"color":"#000"},
    "encoding":{
     "x":{"field":"k","type":"nominal","sort":null,"scale":{"type":"band","domain":["SARS-CoV SP","SARS-CoV-2 SP","BSA","HSA","Milk"],"range":[448.3,705],"paddingInner":0.815,"paddingOuter":0.4645,"align":0.437},"axis":null},
     "y":{"field":"y","type":"quantitative","scale":{"domain":[0,995],"range":[471.7,343.3],"nice":false,"zero":false},"axis":null},
     "text":{"field":"t"}
    }}
  ],
  "resolve":{"axis":{"x":"independent","y":"independent"}}
 },
 {
  "layer":[
   {"data":{"name":"e"},"mark":{"type":"bar","color":"#1b2ea6","stroke":"#0a0f50","strokeWidth":0.6},
    "encoding":{
     "x":{"field":"k","type":"nominal","sort":null,"scale":{"type":"band","domain":["S-1","S-2","S-3","S-4","S-5"],"range":[448.3,705],"paddingInner":0.815,"paddingOuter":0.4645,"align":0.437},
      "axis":{"orient":"bottom","offset":-35,"labelAngle":0,"labelFontSize":12,"labelFontWeight":"normal","labelPadding":1,"tickSize":4,"title":"Immunosensors","titleFontSize":16,"titleFontWeight":"normal","titlePadding":1}},
     "y":{"field":"y","type":"quantitative","scale":{"domain":[0,492],"range":[665,535],"nice":false,"zero":false},
      "axis":{"orient":"left","offset":-448.3,"values":[0,50,100,150,200,250,300,350,400,450],"labelExpr":"datum.value%100==0 ? ''+datum.value : ''","labelFontSize":11,"labelFontWeight":"normal","tickSize":4,"title":"J (μA/cm²)","titleFontSize":18,"titlePadding":0}}
    }},
   {"data":{"name":"e"},"mark":{"type":"rule","strokeWidth":1,"color":"#000"},
    "encoding":{
     "x":{"field":"k","type":"nominal","sort":null,"scale":{"type":"band","domain":["S-1","S-2","S-3","S-4","S-5"],"range":[448.3,705],"paddingInner":0.815,"paddingOuter":0.4645,"align":0.437},"axis":{"orient":"top","offset":-535,"labels":false,"ticks":false,"title":null}},
     "y":{"field":"lo","type":"quantitative","scale":{"domain":[0,492],"range":[665,535],"nice":false,"zero":false},"axis":{"orient":"right","offset":-7,"labels":false,"ticks":false,"title":null}},
     "y2":{"field":"hi"}
    }},
   {"data":{"name":"e"},"mark":{"type":"tick","size":5,"thickness":1,"color":"#000"},
    "encoding":{
     "x":{"field":"k","type":"nominal","sort":null,"scale":{"type":"band","domain":["S-1","S-2","S-3","S-4","S-5"],"range":[448.3,705],"paddingInner":0.815,"paddingOuter":0.4645,"align":0.437},"axis":null},
     "y":{"field":"hi","type":"quantitative","scale":{"domain":[0,492],"range":[665,535],"nice":false,"zero":false},"axis":null}
    }},
   {"data":{"values":[{"t":"e","k":"S-1","y":467}]},"mark":{"type":"text","fontSize":38,"fontWeight":"bold","align":"center","baseline":"alphabetic","dx":-69,"color":"#000"},
    "encoding":{
     "x":{"field":"k","type":"nominal","sort":null,"scale":{"type":"band","domain":["S-1","S-2","S-3","S-4","S-5"],"range":[448.3,705],"paddingInner":0.815,"paddingOuter":0.4645,"align":0.437},"axis":null},
     "y":{"field":"y","type":"quantitative","scale":{"domain":[0,492],"range":[665,535],"nice":false,"zero":false},"axis":null},
     "text":{"field":"t"}
    }}
  ],
  "resolve":{"axis":{"x":"independent","y":"independent"}}
 }
],
"resolve":{"scale":{"x":"independent","y":"independent","color":"independent"},"axis":{"x":"independent","y":"independent"},"legend":{"color":"independent"}}
}
